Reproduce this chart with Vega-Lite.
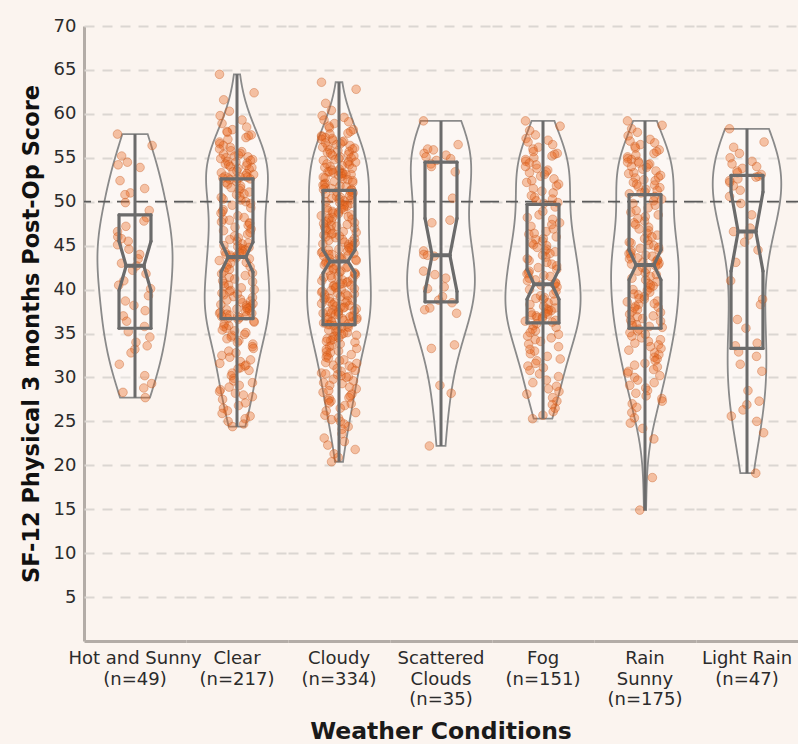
{
  "$schema": "https://vega.github.io/schema/vega-lite/v6.json",
  "padding": {"left": 20, "top": 17, "right": 0, "bottom": 0},
  "background": "#fbf4ef",
  "data": {"values": [
{"c":"Hot and Sunny","v":57.7},{"c":"Hot and Sunny","v":56.4},{"c":"Hot and Sunny","v":55.2},{"c":"Hot and Sunny","v":54.5},{"c":"Hot and Sunny","v":54.2},{"c":"Hot and Sunny","v":53.9},{"c":"Hot and Sunny","v":52.4},{"c":"Hot and Sunny","v":51.5},{"c":"Hot and Sunny","v":51.0},{"c":"Hot and Sunny","v":50.8},{"c":"Hot and Sunny","v":49.9},{"c":"Hot and Sunny","v":49.0},{"c":"Hot and Sunny","v":48.2},{"c":"Hot and Sunny","v":47.8},{"c":"Hot and Sunny","v":47.2},{"c":"Hot and Sunny","v":46.6},{"c":"Hot and Sunny","v":46.0},{"c":"Hot and Sunny","v":45.8},{"c":"Hot and Sunny","v":45.5},{"c":"Hot and Sunny","v":45.1},{"c":"Hot and Sunny","v":44.6},{"c":"Hot and Sunny","v":44.0},{"c":"Hot and Sunny","v":43.5},{"c":"Hot and Sunny","v":43.0},{"c":"Hot and Sunny","v":42.7},{"c":"Hot and Sunny","v":42.2},{"c":"Hot and Sunny","v":41.8},{"c":"Hot and Sunny","v":41.0},{"c":"Hot and Sunny","v":40.5},{"c":"Hot and Sunny","v":40.1},{"c":"Hot and Sunny","v":39.3},{"c":"Hot and Sunny","v":38.7},{"c":"Hot and Sunny","v":38.2},{"c":"Hot and Sunny","v":37.6},{"c":"Hot and Sunny","v":37.0},{"c":"Hot and Sunny","v":36.4},{"c":"Hot and Sunny","v":35.8},{"c":"Hot and Sunny","v":35.2},{"c":"Hot and Sunny","v":34.6},{"c":"Hot and Sunny","v":34.0},{"c":"Hot and Sunny","v":33.6},{"c":"Hot and Sunny","v":33.2},{"c":"Hot and Sunny","v":32.8},{"c":"Hot and Sunny","v":31.5},{"c":"Hot and Sunny","v":30.2},{"c":"Hot and Sunny","v":29.3},{"c":"Hot and Sunny","v":28.8},{"c":"Hot and Sunny","v":28.3},{"c":"Hot and Sunny","v":27.7},
{"c":"Clear","v":64.5},{"c":"Clear","v":62.4},{"c":"Clear","v":61.6},{"c":"Clear","v":60.3},{"c":"Clear","v":59.8},{"c":"Clear","v":59.3},{"c":"Clear","v":58.9},{"c":"Clear","v":58.5},{"c":"Clear","v":58.2},{"c":"Clear","v":58.0},{"c":"Clear","v":57.9},{"c":"Clear","v":57.6},{"c":"Clear","v":57.5},{"c":"Clear","v":57.3},{"c":"Clear","v":57.1},{"c":"Clear","v":56.8},{"c":"Clear","v":56.6},{"c":"Clear","v":56.4},{"c":"Clear","v":56.2},{"c":"Clear","v":56.0},{"c":"Clear","v":55.8},{"c":"Clear","v":55.7},{"c":"Clear","v":55.5},{"c":"Clear","v":55.4},{"c":"Clear","v":55.3},{"c":"Clear","v":55.2},{"c":"Clear","v":55.1},{"c":"Clear","v":55.0},{"c":"Clear","v":54.9},{"c":"Clear","v":54.8},{"c":"Clear","v":54.7},{"c":"Clear","v":54.6},{"c":"Clear","v":54.5},{"c":"Clear","v":54.4},{"c":"Clear","v":54.3},{"c":"Clear","v":54.2},{"c":"Clear","v":54.1},{"c":"Clear","v":54.0},{"c":"Clear","v":53.9},{"c":"Clear","v":53.8},{"c":"Clear","v":53.7},{"c":"Clear","v":53.5},{"c":"Clear","v":53.4},{"c":"Clear","v":53.3},{"c":"Clear","v":53.2},{"c":"Clear","v":53.1},{"c":"Clear","v":53.0},{"c":"Clear","v":52.9},{"c":"Clear","v":52.8},{"c":"Clear","v":52.8},{"c":"Clear","v":52.7},{"c":"Clear","v":52.7},{"c":"Clear","v":52.6},{"c":"Clear","v":52.6},
{"c":"Clear","v":52.5},{"c":"Clear","v":52.3},{"c":"Clear","v":52.2},{"c":"Clear","v":52.0},{"c":"Clear","v":51.8},{"c":"Clear","v":51.6},{"c":"Clear","v":51.5},{"c":"Clear","v":51.3},{"c":"Clear","v":51.1},{"c":"Clear","v":50.9},{"c":"Clear","v":50.8},{"c":"Clear","v":50.6},{"c":"Clear","v":50.5},{"c":"Clear","v":50.3},{"c":"Clear","v":50.2},{"c":"Clear","v":50.0},{"c":"Clear","v":49.8},{"c":"Clear","v":49.6},{"c":"Clear","v":49.3},{"c":"Clear","v":49.1},{"c":"Clear","v":48.9},{"c":"Clear","v":48.7},{"c":"Clear","v":48.4},{"c":"Clear","v":48.2},{"c":"Clear","v":48.0},{"c":"Clear","v":47.9},{"c":"Clear","v":47.7},{"c":"Clear","v":47.6},{"c":"Clear","v":47.5},{"c":"Clear","v":47.3},{"c":"Clear","v":47.1},{"c":"Clear","v":46.9},{"c":"Clear","v":46.7},{"c":"Clear","v":46.5},{"c":"Clear","v":46.3},{"c":"Clear","v":46.1},{"c":"Clear","v":45.9},{"c":"Clear","v":45.7},{"c":"Clear","v":45.5},{"c":"Clear","v":45.3},{"c":"Clear","v":45.2},{"c":"Clear","v":45.0},{"c":"Clear","v":44.9},{"c":"Clear","v":44.8},{"c":"Clear","v":44.7},{"c":"Clear","v":44.6},{"c":"Clear","v":44.5},{"c":"Clear","v":44.4},{"c":"Clear","v":44.3},{"c":"Clear","v":44.2},{"c":"Clear","v":44.1},{"c":"Clear","v":44.0},{"c":"Clear","v":43.9},{"c":"Clear","v":43.8},{"c":"Clear","v":43.7},
{"c":"Clear","v":43.6},{"c":"Clear","v":43.5},{"c":"Clear","v":43.3},{"c":"Clear","v":43.1},{"c":"Clear","v":43.0},{"c":"Clear","v":42.8},{"c":"Clear","v":42.6},{"c":"Clear","v":42.5},{"c":"Clear","v":42.3},{"c":"Clear","v":42.1},{"c":"Clear","v":41.9},{"c":"Clear","v":41.8},{"c":"Clear","v":41.6},{"c":"Clear","v":41.4},{"c":"Clear","v":41.2},{"c":"Clear","v":41.0},{"c":"Clear","v":40.9},{"c":"Clear","v":40.7},{"c":"Clear","v":40.5},{"c":"Clear","v":40.4},{"c":"Clear","v":40.2},{"c":"Clear","v":40.0},{"c":"Clear","v":39.9},{"c":"Clear","v":39.8},{"c":"Clear","v":39.6},{"c":"Clear","v":39.5},{"c":"Clear","v":39.4},{"c":"Clear","v":39.2},{"c":"Clear","v":39.1},{"c":"Clear","v":38.9},{"c":"Clear","v":38.8},{"c":"Clear","v":38.7},{"c":"Clear","v":38.5},{"c":"Clear","v":38.4},{"c":"Clear","v":38.3},{"c":"Clear","v":38.2},{"c":"Clear","v":38.1},{"c":"Clear","v":38.0},{"c":"Clear","v":37.9},{"c":"Clear","v":37.8},{"c":"Clear","v":37.8},{"c":"Clear","v":37.7},{"c":"Clear","v":37.6},{"c":"Clear","v":37.5},{"c":"Clear","v":37.4},{"c":"Clear","v":37.3},{"c":"Clear","v":37.3},{"c":"Clear","v":37.2},{"c":"Clear","v":37.1},{"c":"Clear","v":37.0},{"c":"Clear","v":36.9},{"c":"Clear","v":36.9},{"c":"Clear","v":36.8},{"c":"Clear","v":36.7},
{"c":"Clear","v":36.6},{"c":"Clear","v":36.4},{"c":"Clear","v":36.3},{"c":"Clear","v":36.1},{"c":"Clear","v":35.9},{"c":"Clear","v":35.8},{"c":"Clear","v":35.6},{"c":"Clear","v":35.4},{"c":"Clear","v":35.3},{"c":"Clear","v":35.1},{"c":"Clear","v":34.9},{"c":"Clear","v":34.8},{"c":"Clear","v":34.6},{"c":"Clear","v":34.4},{"c":"Clear","v":34.2},{"c":"Clear","v":34.0},{"c":"Clear","v":33.8},{"c":"Clear","v":33.5},{"c":"Clear","v":33.3},{"c":"Clear","v":33.0},{"c":"Clear","v":32.8},{"c":"Clear","v":32.5},{"c":"Clear","v":32.3},{"c":"Clear","v":32.0},{"c":"Clear","v":31.8},{"c":"Clear","v":31.6},{"c":"Clear","v":31.4},{"c":"Clear","v":31.3},{"c":"Clear","v":31.1},{"c":"Clear","v":31.0},{"c":"Clear","v":30.8},{"c":"Clear","v":30.5},{"c":"Clear","v":30.2},{"c":"Clear","v":29.9},{"c":"Clear","v":29.6},{"c":"Clear","v":29.4},{"c":"Clear","v":29.1},{"c":"Clear","v":28.9},{"c":"Clear","v":28.6},{"c":"Clear","v":28.4},{"c":"Clear","v":28.2},{"c":"Clear","v":28.0},{"c":"Clear","v":27.8},{"c":"Clear","v":27.5},{"c":"Clear","v":27.1},{"c":"Clear","v":26.8},{"c":"Clear","v":26.5},{"c":"Clear","v":26.2},{"c":"Clear","v":25.9},{"c":"Clear","v":25.6},{"c":"Clear","v":25.3},{"c":"Clear","v":25.0},{"c":"Clear","v":24.7},{"c":"Clear","v":24.4},
{"c":"Cloudy","v":63.6},{"c":"Cloudy","v":62.8},{"c":"Cloudy","v":61.2},{"c":"Cloudy","v":60.4},{"c":"Cloudy","v":59.8},{"c":"Cloudy","v":59.6},{"c":"Cloudy","v":59.3},{"c":"Cloudy","v":59.1},{"c":"Cloudy","v":58.9},{"c":"Cloudy","v":58.6},{"c":"Cloudy","v":58.4},{"c":"Cloudy","v":58.2},{"c":"Cloudy","v":58.0},{"c":"Cloudy","v":57.8},{"c":"Cloudy","v":57.7},{"c":"Cloudy","v":57.5},
{"c":"Cloudy","v":57.4},{"c":"Cloudy","v":57.3},{"c":"Cloudy","v":57.2},{"c":"Cloudy","v":57.1},{"c":"Cloudy","v":57.0},{"c":"Cloudy","v":56.9},{"c":"Cloudy","v":56.8},{"c":"Cloudy","v":56.7},{"c":"Cloudy","v":56.6},{"c":"Cloudy","v":56.5},{"c":"Cloudy","v":56.4},{"c":"Cloudy","v":56.3},{"c":"Cloudy","v":56.2},{"c":"Cloudy","v":56.1},{"c":"Cloudy","v":56.0},{"c":"Cloudy","v":55.9},{"c":"Cloudy","v":55.8},{"c":"Cloudy","v":55.7},{"c":"Cloudy","v":55.6},{"c":"Cloudy","v":55.5},{"c":"Cloudy","v":55.4},{"c":"Cloudy","v":55.3},{"c":"Cloudy","v":55.2},{"c":"Cloudy","v":55.1},{"c":"Cloudy","v":55.0},
{"c":"Cloudy","v":54.9},{"c":"Cloudy","v":54.8},{"c":"Cloudy","v":54.7},{"c":"Cloudy","v":54.6},{"c":"Cloudy","v":54.5},{"c":"Cloudy","v":54.4},{"c":"Cloudy","v":54.3},{"c":"Cloudy","v":54.2},{"c":"Cloudy","v":54.1},{"c":"Cloudy","v":54.0},{"c":"Cloudy","v":53.9},{"c":"Cloudy","v":53.8},{"c":"Cloudy","v":53.7},{"c":"Cloudy","v":53.6},{"c":"Cloudy","v":53.5},{"c":"Cloudy","v":53.4},{"c":"Cloudy","v":53.4},{"c":"Cloudy","v":53.3},{"c":"Cloudy","v":53.3},{"c":"Cloudy","v":53.2},{"c":"Cloudy","v":53.2},{"c":"Cloudy","v":53.1},{"c":"Cloudy","v":53.1},{"c":"Cloudy","v":53.0},
{"c":"Cloudy","v":52.9},{"c":"Cloudy","v":52.8},{"c":"Cloudy","v":52.7},{"c":"Cloudy","v":52.6},{"c":"Cloudy","v":52.5},{"c":"Cloudy","v":52.4},{"c":"Cloudy","v":52.3},{"c":"Cloudy","v":52.2},{"c":"Cloudy","v":52.1},{"c":"Cloudy","v":52.0},{"c":"Cloudy","v":51.9},{"c":"Cloudy","v":51.8},{"c":"Cloudy","v":51.7},{"c":"Cloudy","v":51.6},{"c":"Cloudy","v":51.5},{"c":"Cloudy","v":51.4},{"c":"Cloudy","v":51.4},{"c":"Cloudy","v":51.3},
{"c":"Cloudy","v":51.2},{"c":"Cloudy","v":51.1},{"c":"Cloudy","v":51.0},{"c":"Cloudy","v":50.9},{"c":"Cloudy","v":50.8},{"c":"Cloudy","v":50.7},{"c":"Cloudy","v":50.6},{"c":"Cloudy","v":50.5},{"c":"Cloudy","v":50.4},{"c":"Cloudy","v":50.3},{"c":"Cloudy","v":50.2},{"c":"Cloudy","v":50.1},{"c":"Cloudy","v":50.0},{"c":"Cloudy","v":49.9},{"c":"Cloudy","v":49.8},{"c":"Cloudy","v":49.7},{"c":"Cloudy","v":49.6},{"c":"Cloudy","v":49.5},{"c":"Cloudy","v":49.4},{"c":"Cloudy","v":49.3},{"c":"Cloudy","v":49.2},{"c":"Cloudy","v":49.1},
{"c":"Cloudy","v":49.0},{"c":"Cloudy","v":48.9},{"c":"Cloudy","v":48.8},{"c":"Cloudy","v":48.7},{"c":"Cloudy","v":48.6},{"c":"Cloudy","v":48.5},{"c":"Cloudy","v":48.4},{"c":"Cloudy","v":48.3},{"c":"Cloudy","v":48.2},{"c":"Cloudy","v":48.1},{"c":"Cloudy","v":48.0},{"c":"Cloudy","v":47.9},{"c":"Cloudy","v":47.8},{"c":"Cloudy","v":47.7},{"c":"Cloudy","v":47.6},{"c":"Cloudy","v":47.5},{"c":"Cloudy","v":47.4},{"c":"Cloudy","v":47.3},{"c":"Cloudy","v":47.2},{"c":"Cloudy","v":47.1},
{"c":"Cloudy","v":47.0},{"c":"Cloudy","v":46.9},{"c":"Cloudy","v":46.8},{"c":"Cloudy","v":46.7},{"c":"Cloudy","v":46.6},{"c":"Cloudy","v":46.5},{"c":"Cloudy","v":46.4},{"c":"Cloudy","v":46.3},{"c":"Cloudy","v":46.2},{"c":"Cloudy","v":46.1},{"c":"Cloudy","v":46.0},{"c":"Cloudy","v":45.9},{"c":"Cloudy","v":45.8},{"c":"Cloudy","v":45.7},{"c":"Cloudy","v":45.6},{"c":"Cloudy","v":45.5},{"c":"Cloudy","v":45.4},{"c":"Cloudy","v":45.3},{"c":"Cloudy","v":45.2},{"c":"Cloudy","v":45.1},
{"c":"Cloudy","v":45.0},{"c":"Cloudy","v":44.9},{"c":"Cloudy","v":44.8},{"c":"Cloudy","v":44.7},{"c":"Cloudy","v":44.6},{"c":"Cloudy","v":44.5},{"c":"Cloudy","v":44.5},{"c":"Cloudy","v":44.4},{"c":"Cloudy","v":44.3},{"c":"Cloudy","v":44.2},{"c":"Cloudy","v":44.1},{"c":"Cloudy","v":44.0},{"c":"Cloudy","v":44.0},{"c":"Cloudy","v":43.9},{"c":"Cloudy","v":43.8},{"c":"Cloudy","v":43.7},{"c":"Cloudy","v":43.6},{"c":"Cloudy","v":43.5},{"c":"Cloudy","v":43.5},{"c":"Cloudy","v":43.4},{"c":"Cloudy","v":43.3},{"c":"Cloudy","v":43.2},
{"c":"Cloudy","v":43.1},{"c":"Cloudy","v":43.0},{"c":"Cloudy","v":42.9},{"c":"Cloudy","v":42.8},{"c":"Cloudy","v":42.7},{"c":"Cloudy","v":42.6},{"c":"Cloudy","v":42.5},{"c":"Cloudy","v":42.4},{"c":"Cloudy","v":42.3},{"c":"Cloudy","v":42.2},{"c":"Cloudy","v":42.1},{"c":"Cloudy","v":42.0},{"c":"Cloudy","v":41.9},{"c":"Cloudy","v":41.8},{"c":"Cloudy","v":41.7},{"c":"Cloudy","v":41.6},{"c":"Cloudy","v":41.5},{"c":"Cloudy","v":41.4},{"c":"Cloudy","v":41.3},{"c":"Cloudy","v":41.2},
{"c":"Cloudy","v":41.1},{"c":"Cloudy","v":41.0},{"c":"Cloudy","v":40.9},{"c":"Cloudy","v":40.8},{"c":"Cloudy","v":40.7},{"c":"Cloudy","v":40.6},{"c":"Cloudy","v":40.5},{"c":"Cloudy","v":40.5},{"c":"Cloudy","v":40.4},{"c":"Cloudy","v":40.3},{"c":"Cloudy","v":40.2},{"c":"Cloudy","v":40.1},{"c":"Cloudy","v":40.0},{"c":"Cloudy","v":39.9},{"c":"Cloudy","v":39.8},{"c":"Cloudy","v":39.7},{"c":"Cloudy","v":39.6},{"c":"Cloudy","v":39.5},{"c":"Cloudy","v":39.5},{"c":"Cloudy","v":39.4},{"c":"Cloudy","v":39.3},{"c":"Cloudy","v":39.2},
{"c":"Cloudy","v":39.1},{"c":"Cloudy","v":39.0},{"c":"Cloudy","v":38.9},{"c":"Cloudy","v":38.8},{"c":"Cloudy","v":38.7},{"c":"Cloudy","v":38.6},{"c":"Cloudy","v":38.5},{"c":"Cloudy","v":38.5},{"c":"Cloudy","v":38.4},{"c":"Cloudy","v":38.3},{"c":"Cloudy","v":38.2},{"c":"Cloudy","v":38.1},{"c":"Cloudy","v":38.0},{"c":"Cloudy","v":38.0},{"c":"Cloudy","v":37.9},{"c":"Cloudy","v":37.8},{"c":"Cloudy","v":37.7},{"c":"Cloudy","v":37.6},{"c":"Cloudy","v":37.5},{"c":"Cloudy","v":37.5},{"c":"Cloudy","v":37.4},{"c":"Cloudy","v":37.3},{"c":"Cloudy","v":37.3},{"c":"Cloudy","v":37.2},
{"c":"Cloudy","v":37.1},{"c":"Cloudy","v":37.0},{"c":"Cloudy","v":36.9},{"c":"Cloudy","v":36.9},{"c":"Cloudy","v":36.8},{"c":"Cloudy","v":36.8},{"c":"Cloudy","v":36.7},{"c":"Cloudy","v":36.6},{"c":"Cloudy","v":36.6},{"c":"Cloudy","v":36.5},{"c":"Cloudy","v":36.4},{"c":"Cloudy","v":36.3},{"c":"Cloudy","v":36.3},{"c":"Cloudy","v":36.2},{"c":"Cloudy","v":36.1},{"c":"Cloudy","v":36.0},{"c":"Cloudy","v":36.0},
{"c":"Cloudy","v":35.9},{"c":"Cloudy","v":35.8},{"c":"Cloudy","v":35.7},{"c":"Cloudy","v":35.6},{"c":"Cloudy","v":35.5},{"c":"Cloudy","v":35.4},{"c":"Cloudy","v":35.3},{"c":"Cloudy","v":35.2},{"c":"Cloudy","v":35.1},{"c":"Cloudy","v":35.0},{"c":"Cloudy","v":34.9},{"c":"Cloudy","v":34.8},{"c":"Cloudy","v":34.7},{"c":"Cloudy","v":34.6},{"c":"Cloudy","v":34.5},{"c":"Cloudy","v":34.4},{"c":"Cloudy","v":34.3},{"c":"Cloudy","v":34.2},{"c":"Cloudy","v":34.1},{"c":"Cloudy","v":34.0},{"c":"Cloudy","v":33.8},{"c":"Cloudy","v":33.6},{"c":"Cloudy","v":33.5},{"c":"Cloudy","v":33.3},{"c":"Cloudy","v":33.2},{"c":"Cloudy","v":33.0},
{"c":"Cloudy","v":32.9},{"c":"Cloudy","v":32.8},{"c":"Cloudy","v":32.6},{"c":"Cloudy","v":32.5},{"c":"Cloudy","v":32.3},{"c":"Cloudy","v":32.2},{"c":"Cloudy","v":32.0},{"c":"Cloudy","v":31.9},{"c":"Cloudy","v":31.7},{"c":"Cloudy","v":31.6},{"c":"Cloudy","v":31.4},{"c":"Cloudy","v":31.3},{"c":"Cloudy","v":31.1},{"c":"Cloudy","v":31.0},{"c":"Cloudy","v":30.8},{"c":"Cloudy","v":30.7},{"c":"Cloudy","v":30.5},{"c":"Cloudy","v":30.4},{"c":"Cloudy","v":30.3},{"c":"Cloudy","v":30.2},{"c":"Cloudy","v":30.1},{"c":"Cloudy","v":30.0},
{"c":"Cloudy","v":29.8},{"c":"Cloudy","v":29.6},{"c":"Cloudy","v":29.4},{"c":"Cloudy","v":29.3},{"c":"Cloudy","v":29.1},{"c":"Cloudy","v":28.9},{"c":"Cloudy","v":28.7},{"c":"Cloudy","v":28.5},{"c":"Cloudy","v":28.3},{"c":"Cloudy","v":28.1},{"c":"Cloudy","v":27.9},{"c":"Cloudy","v":27.7},{"c":"Cloudy","v":27.6},{"c":"Cloudy","v":27.4},{"c":"Cloudy","v":27.3},{"c":"Cloudy","v":27.1},{"c":"Cloudy","v":27.0},
{"c":"Cloudy","v":26.8},{"c":"Cloudy","v":26.5},{"c":"Cloudy","v":26.2},{"c":"Cloudy","v":26.0},{"c":"Cloudy","v":25.7},{"c":"Cloudy","v":25.4},{"c":"Cloudy","v":25.2},{"c":"Cloudy","v":25.0},{"c":"Cloudy","v":24.7},{"c":"Cloudy","v":24.4},{"c":"Cloudy","v":24.1},
{"c":"Cloudy","v":23.6},{"c":"Cloudy","v":23.1},{"c":"Cloudy","v":22.7},{"c":"Cloudy","v":22.3},{"c":"Cloudy","v":21.8},{"c":"Cloudy","v":21.3},{"c":"Cloudy","v":20.9},{"c":"Cloudy","v":20.4},
{"c":"Scattered Clouds","v":59.2},{"c":"Scattered Clouds","v":56.5},{"c":"Scattered Clouds","v":56.0},{"c":"Scattered Clouds","v":55.9},{"c":"Scattered Clouds","v":55.5},{"c":"Scattered Clouds","v":55.3},{"c":"Scattered Clouds","v":55.1},{"c":"Scattered Clouds","v":54.9},{"c":"Scattered Clouds","v":54.7},{"c":"Scattered Clouds","v":54.3},{"c":"Scattered Clouds","v":54.0},{"c":"Scattered Clouds","v":53.4},{"c":"Scattered Clouds","v":50.4},{"c":"Scattered Clouds","v":47.9},{"c":"Scattered Clouds","v":47.6},{"c":"Scattered Clouds","v":44.4},{"c":"Scattered Clouds","v":44.0},{"c":"Scattered Clouds","v":43.9},{"c":"Scattered Clouds","v":43.8},{"c":"Scattered Clouds","v":42.1},{"c":"Scattered Clouds","v":41.7},{"c":"Scattered Clouds","v":41.3},{"c":"Scattered Clouds","v":40.3},{"c":"Scattered Clouds","v":40.1},{"c":"Scattered Clouds","v":39.2},{"c":"Scattered Clouds","v":38.8},{"c":"Scattered Clouds","v":38.5},{"c":"Scattered Clouds","v":37.9},{"c":"Scattered Clouds","v":37.7},{"c":"Scattered Clouds","v":37.3},{"c":"Scattered Clouds","v":33.7},{"c":"Scattered Clouds","v":33.3},{"c":"Scattered Clouds","v":29.1},{"c":"Scattered Clouds","v":28.2},{"c":"Scattered Clouds","v":22.2},
{"c":"Fog","v":59.2},{"c":"Fog","v":58.6},{"c":"Fog","v":58.1},{"c":"Fog","v":57.6},{"c":"Fog","v":57.2},{"c":"Fog","v":57.0},{"c":"Fog","v":56.8},{"c":"Fog","v":56.5},{"c":"Fog","v":56.2},{"c":"Fog","v":56.0},{"c":"Fog","v":55.7},{"c":"Fog","v":55.5},{"c":"Fog","v":55.4},{"c":"Fog","v":55.2},{"c":"Fog","v":55.0},{"c":"Fog","v":54.8},{"c":"Fog","v":54.6},{"c":"Fog","v":54.4},{"c":"Fog","v":54.2},{"c":"Fog","v":54.0},{"c":"Fog","v":53.8},{"c":"Fog","v":53.6},{"c":"Fog","v":53.4},{"c":"Fog","v":53.3},{"c":"Fog","v":53.1},{"c":"Fog","v":52.9},{"c":"Fog","v":52.6},{"c":"Fog","v":52.4},{"c":"Fog","v":52.2},{"c":"Fog","v":52.0},{"c":"Fog","v":51.8},{"c":"Fog","v":51.5},{"c":"Fog","v":51.2},{"c":"Fog","v":51.0},{"c":"Fog","v":50.7},{"c":"Fog","v":50.5},{"c":"Fog","v":50.3},{"c":"Fog","v":50.1},{"c":"Fog","v":49.9},{"c":"Fog","v":49.8},
{"c":"Fog","v":49.4},{"c":"Fog","v":48.9},{"c":"Fog","v":48.5},{"c":"Fog","v":48.2},{"c":"Fog","v":48.0},{"c":"Fog","v":47.6},{"c":"Fog","v":47.4},{"c":"Fog","v":47.2},{"c":"Fog","v":46.9},{"c":"Fog","v":46.6},{"c":"Fog","v":46.4},{"c":"Fog","v":46.3},{"c":"Fog","v":46.0},{"c":"Fog","v":45.8},{"c":"Fog","v":45.7},{"c":"Fog","v":45.5},{"c":"Fog","v":45.3},{"c":"Fog","v":45.1},{"c":"Fog","v":45.0},{"c":"Fog","v":44.8},{"c":"Fog","v":44.6},{"c":"Fog","v":44.4},{"c":"Fog","v":44.3},{"c":"Fog","v":44.1},{"c":"Fog","v":43.9},{"c":"Fog","v":43.7},{"c":"Fog","v":43.5},{"c":"Fog","v":43.3},{"c":"Fog","v":43.1},{"c":"Fog","v":42.9},{"c":"Fog","v":42.7},{"c":"Fog","v":42.5},{"c":"Fog","v":42.3},{"c":"Fog","v":42.1},{"c":"Fog","v":41.9},{"c":"Fog","v":41.8},{"c":"Fog","v":41.6},{"c":"Fog","v":41.5},{"c":"Fog","v":41.3},{"c":"Fog","v":41.1},{"c":"Fog","v":41.0},{"c":"Fog","v":40.8},{"c":"Fog","v":40.7},{"c":"Fog","v":40.6},
{"c":"Fog","v":40.5},{"c":"Fog","v":40.3},{"c":"Fog","v":40.0},{"c":"Fog","v":39.8},{"c":"Fog","v":39.5},{"c":"Fog","v":39.3},{"c":"Fog","v":39.1},{"c":"Fog","v":39.0},{"c":"Fog","v":38.9},{"c":"Fog","v":38.7},{"c":"Fog","v":38.5},{"c":"Fog","v":38.3},{"c":"Fog","v":38.1},{"c":"Fog","v":37.9},{"c":"Fog","v":37.8},{"c":"Fog","v":37.7},{"c":"Fog","v":37.6},{"c":"Fog","v":37.5},{"c":"Fog","v":37.4},{"c":"Fog","v":37.3},{"c":"Fog","v":37.2},{"c":"Fog","v":37.1},{"c":"Fog","v":37.0},{"c":"Fog","v":36.9},{"c":"Fog","v":36.8},{"c":"Fog","v":36.7},{"c":"Fog","v":36.5},{"c":"Fog","v":36.4},{"c":"Fog","v":36.3},
{"c":"Fog","v":36.1},{"c":"Fog","v":35.9},{"c":"Fog","v":35.7},{"c":"Fog","v":35.5},{"c":"Fog","v":35.3},{"c":"Fog","v":35.1},{"c":"Fog","v":34.9},{"c":"Fog","v":34.7},{"c":"Fog","v":34.5},{"c":"Fog","v":34.3},{"c":"Fog","v":34.1},{"c":"Fog","v":33.8},{"c":"Fog","v":33.5},{"c":"Fog","v":33.2},{"c":"Fog","v":33.0},{"c":"Fog","v":32.7},{"c":"Fog","v":32.4},{"c":"Fog","v":32.1},{"c":"Fog","v":31.9},{"c":"Fog","v":31.6},{"c":"Fog","v":31.3},{"c":"Fog","v":31.1},{"c":"Fog","v":30.8},{"c":"Fog","v":30.4},{"c":"Fog","v":30.1},{"c":"Fog","v":29.7},{"c":"Fog","v":29.4},{"c":"Fog","v":29.0},{"c":"Fog","v":28.7},{"c":"Fog","v":28.4},{"c":"Fog","v":28.1},{"c":"Fog","v":27.7},{"c":"Fog","v":27.3},{"c":"Fog","v":26.9},{"c":"Fog","v":26.5},{"c":"Fog","v":26.1},{"c":"Fog","v":25.7},{"c":"Fog","v":25.3},
{"c":"Rain Sunny","v":59.2},{"c":"Rain Sunny","v":58.7},{"c":"Rain Sunny","v":58.3},{"c":"Rain Sunny","v":57.9},{"c":"Rain Sunny","v":57.5},{"c":"Rain Sunny","v":57.1},{"c":"Rain Sunny","v":56.9},{"c":"Rain Sunny","v":56.7},{"c":"Rain Sunny","v":56.5},{"c":"Rain Sunny","v":56.3},{"c":"Rain Sunny","v":56.1},{"c":"Rain Sunny","v":55.9},{"c":"Rain Sunny","v":55.7},{"c":"Rain Sunny","v":55.5},{"c":"Rain Sunny","v":55.3},{"c":"Rain Sunny","v":55.1},{"c":"Rain Sunny","v":54.9},{"c":"Rain Sunny","v":54.8},{"c":"Rain Sunny","v":54.6},{"c":"Rain Sunny","v":54.5},{"c":"Rain Sunny","v":54.4},{"c":"Rain Sunny","v":54.3},{"c":"Rain Sunny","v":54.2},{"c":"Rain Sunny","v":54.0},{"c":"Rain Sunny","v":53.9},{"c":"Rain Sunny","v":53.7},{"c":"Rain Sunny","v":53.5},{"c":"Rain Sunny","v":53.3},{"c":"Rain Sunny","v":53.2},{"c":"Rain Sunny","v":53.0},{"c":"Rain Sunny","v":52.8},{"c":"Rain Sunny","v":52.7},{"c":"Rain Sunny","v":52.5},{"c":"Rain Sunny","v":52.4},{"c":"Rain Sunny","v":52.2},{"c":"Rain Sunny","v":52.0},{"c":"Rain Sunny","v":51.9},{"c":"Rain Sunny","v":51.7},{"c":"Rain Sunny","v":51.6},{"c":"Rain Sunny","v":51.4},{"c":"Rain Sunny","v":51.3},{"c":"Rain Sunny","v":51.1},{"c":"Rain Sunny","v":51.0},{"c":"Rain Sunny","v":50.9},
{"c":"Rain Sunny","v":50.6},{"c":"Rain Sunny","v":50.3},{"c":"Rain Sunny","v":50.1},{"c":"Rain Sunny","v":49.8},{"c":"Rain Sunny","v":49.6},{"c":"Rain Sunny","v":49.3},{"c":"Rain Sunny","v":49.0},{"c":"Rain Sunny","v":48.8},{"c":"Rain Sunny","v":48.5},{"c":"Rain Sunny","v":48.3},{"c":"Rain Sunny","v":48.1},{"c":"Rain Sunny","v":47.8},{"c":"Rain Sunny","v":47.6},{"c":"Rain Sunny","v":47.4},{"c":"Rain Sunny","v":47.1},{"c":"Rain Sunny","v":46.9},{"c":"Rain Sunny","v":46.7},{"c":"Rain Sunny","v":46.4},{"c":"Rain Sunny","v":46.2},{"c":"Rain Sunny","v":46.0},{"c":"Rain Sunny","v":45.8},{"c":"Rain Sunny","v":45.6},{"c":"Rain Sunny","v":45.4},{"c":"Rain Sunny","v":45.3},{"c":"Rain Sunny","v":45.1},{"c":"Rain Sunny","v":45.0},{"c":"Rain Sunny","v":44.8},{"c":"Rain Sunny","v":44.7},{"c":"Rain Sunny","v":44.5},{"c":"Rain Sunny","v":44.4},{"c":"Rain Sunny","v":44.2},{"c":"Rain Sunny","v":44.1},{"c":"Rain Sunny","v":43.9},{"c":"Rain Sunny","v":43.8},{"c":"Rain Sunny","v":43.7},{"c":"Rain Sunny","v":43.6},{"c":"Rain Sunny","v":43.5},{"c":"Rain Sunny","v":43.4},{"c":"Rain Sunny","v":43.3},{"c":"Rain Sunny","v":43.2},{"c":"Rain Sunny","v":43.1},{"c":"Rain Sunny","v":43.0},{"c":"Rain Sunny","v":42.9},{"c":"Rain Sunny","v":42.8},
{"c":"Rain Sunny","v":42.7},{"c":"Rain Sunny","v":42.5},{"c":"Rain Sunny","v":42.3},{"c":"Rain Sunny","v":42.1},{"c":"Rain Sunny","v":41.9},{"c":"Rain Sunny","v":41.7},{"c":"Rain Sunny","v":41.5},{"c":"Rain Sunny","v":41.3},{"c":"Rain Sunny","v":41.1},{"c":"Rain Sunny","v":40.9},{"c":"Rain Sunny","v":40.7},{"c":"Rain Sunny","v":40.5},{"c":"Rain Sunny","v":40.4},{"c":"Rain Sunny","v":40.2},{"c":"Rain Sunny","v":40.0},{"c":"Rain Sunny","v":39.9},{"c":"Rain Sunny","v":39.7},{"c":"Rain Sunny","v":39.5},{"c":"Rain Sunny","v":39.4},{"c":"Rain Sunny","v":39.2},{"c":"Rain Sunny","v":39.0},{"c":"Rain Sunny","v":38.9},{"c":"Rain Sunny","v":38.7},{"c":"Rain Sunny","v":38.6},{"c":"Rain Sunny","v":38.4},{"c":"Rain Sunny","v":38.3},{"c":"Rain Sunny","v":38.1},{"c":"Rain Sunny","v":38.0},{"c":"Rain Sunny","v":37.9},{"c":"Rain Sunny","v":37.7},{"c":"Rain Sunny","v":37.5},{"c":"Rain Sunny","v":37.4},{"c":"Rain Sunny","v":37.2},{"c":"Rain Sunny","v":37.0},{"c":"Rain Sunny","v":36.9},{"c":"Rain Sunny","v":36.7},{"c":"Rain Sunny","v":36.5},{"c":"Rain Sunny","v":36.4},{"c":"Rain Sunny","v":36.2},{"c":"Rain Sunny","v":36.0},{"c":"Rain Sunny","v":35.9},{"c":"Rain Sunny","v":35.8},{"c":"Rain Sunny","v":35.7},
{"c":"Rain Sunny","v":35.5},{"c":"Rain Sunny","v":35.3},{"c":"Rain Sunny","v":35.1},{"c":"Rain Sunny","v":34.9},{"c":"Rain Sunny","v":34.7},{"c":"Rain Sunny","v":34.5},{"c":"Rain Sunny","v":34.3},{"c":"Rain Sunny","v":34.1},{"c":"Rain Sunny","v":33.9},{"c":"Rain Sunny","v":33.7},{"c":"Rain Sunny","v":33.5},{"c":"Rain Sunny","v":33.3},{"c":"Rain Sunny","v":33.1},{"c":"Rain Sunny","v":32.8},{"c":"Rain Sunny","v":32.6},{"c":"Rain Sunny","v":32.3},{"c":"Rain Sunny","v":32.1},{"c":"Rain Sunny","v":31.9},{"c":"Rain Sunny","v":31.6},{"c":"Rain Sunny","v":31.4},{"c":"Rain Sunny","v":31.2},{"c":"Rain Sunny","v":30.9},{"c":"Rain Sunny","v":30.7},{"c":"Rain Sunny","v":30.5},{"c":"Rain Sunny","v":30.2},{"c":"Rain Sunny","v":30.0},{"c":"Rain Sunny","v":29.7},{"c":"Rain Sunny","v":29.4},{"c":"Rain Sunny","v":29.1},{"c":"Rain Sunny","v":28.8},{"c":"Rain Sunny","v":28.5},{"c":"Rain Sunny","v":28.2},{"c":"Rain Sunny","v":27.9},{"c":"Rain Sunny","v":27.6},{"c":"Rain Sunny","v":27.3},{"c":"Rain Sunny","v":27.0},{"c":"Rain Sunny","v":26.6},{"c":"Rain Sunny","v":26.0},{"c":"Rain Sunny","v":25.4},{"c":"Rain Sunny","v":24.8},{"c":"Rain Sunny","v":24.2},{"c":"Rain Sunny","v":23.0},{"c":"Rain Sunny","v":18.6},{"c":"Rain Sunny","v":14.9},
{"c":"Light Rain","v":58.3},{"c":"Light Rain","v":56.8},{"c":"Light Rain","v":56.2},{"c":"Light Rain","v":55.5},{"c":"Light Rain","v":55.0},{"c":"Light Rain","v":54.6},{"c":"Light Rain","v":54.3},{"c":"Light Rain","v":54.0},{"c":"Light Rain","v":53.8},{"c":"Light Rain","v":53.5},{"c":"Light Rain","v":53.3},{"c":"Light Rain","v":53.1},{"c":"Light Rain","v":52.9},{"c":"Light Rain","v":52.8},{"c":"Light Rain","v":52.6},{"c":"Light Rain","v":52.4},{"c":"Light Rain","v":52.2},{"c":"Light Rain","v":51.8},{"c":"Light Rain","v":51.3},{"c":"Light Rain","v":50.6},{"c":"Light Rain","v":49.8},{"c":"Light Rain","v":48.5},{"c":"Light Rain","v":47.0},{"c":"Light Rain","v":46.6},{"c":"Light Rain","v":46.2},{"c":"Light Rain","v":45.4},{"c":"Light Rain","v":44.5},{"c":"Light Rain","v":43.1},{"c":"Light Rain","v":41.0},{"c":"Light Rain","v":38.9},{"c":"Light Rain","v":38.3},{"c":"Light Rain","v":36.6},{"c":"Light Rain","v":35.6},{"c":"Light Rain","v":33.9},{"c":"Light Rain","v":33.6},{"c":"Light Rain","v":32.9},{"c":"Light Rain","v":32.4},{"c":"Light Rain","v":31.5},{"c":"Light Rain","v":30.7},{"c":"Light Rain","v":28.5},{"c":"Light Rain","v":27.3},{"c":"Light Rain","v":26.9},{"c":"Light Rain","v":26.3},{"c":"Light Rain","v":25.6},{"c":"Light Rain","v":25.0},{"c":"Light Rain","v":23.7},{"c":"Light Rain","v":19.1},
{"c":"Hot and Sunny","lo":27.7,"q1":35.6,"nlo":39.9,"med":42.7,"nhi":45.5,"q3":48.5,"hi":57.7},
{"c":"Clear","lo":24.4,"q1":36.7,"nlo":42.0,"med":43.7,"nhi":45.4,"q3":52.6,"hi":64.5},
{"c":"Cloudy","lo":20.4,"q1":36.0,"nlo":41.9,"med":43.2,"nhi":44.5,"q3":51.3,"hi":63.6},
{"c":"Scattered Clouds","lo":22.2,"q1":38.6,"nlo":39.8,"med":43.9,"nhi":48.1,"q3":54.5,"hi":59.2},
{"c":"Fog","lo":25.3,"q1":36.2,"nlo":38.9,"med":40.6,"nhi":42.3,"q3":49.7,"hi":59.2},
{"c":"Rain Sunny","lo":14.9,"q1":35.6,"nlo":41.1,"med":42.8,"nhi":44.5,"q3":50.8,"hi":59.2},
{"c":"Light Rain","lo":19.1,"q1":33.3,"nlo":42.1,"med":46.6,"nhi":51.1,"q3":53.0,"hi":58.3}
  ]},
  "facet": {
    "column": {
      "field": "c", "type": "nominal",
      "sort": ["Hot and Sunny", "Clear", "Cloudy", "Scattered Clouds", "Fog", "Rain Sunny", "Light Rain"],
      "title": "Weather Conditions",
      "header": {
        "labelOrient": "bottom", "titleOrient": "bottom",
        "labelExpr": "datum.value == 'Hot and Sunny' ? ['Hot and Sunny', '(n=49)'] : datum.value == 'Clear' ? ['Clear', '(n=217)'] : datum.value == 'Cloudy' ? ['Cloudy', '(n=334)'] : datum.value == 'Scattered Clouds' ? ['Scattered', 'Clouds', '(n=35)'] : datum.value == 'Fog' ? ['Fog', '(n=151)'] : datum.value == 'Rain Sunny' ? ['Rain', 'Sunny', '(n=175)'] : ['Light Rain', '(n=47)']",
        "labelFont": "DejaVu Sans", "labelFontSize": 18, "labelColor": "#2b2b2b", "labelLineHeight": 20.5, "labelPadding": 9, "labelBaseline": "top",
        "titleFont": "DejaVu Sans", "titleFontSize": 23.5, "titleFontWeight": "bold", "titleColor": "#1a1a1a", "titlePadding": 1
      }
    }
  },
  "spacing": 0,
  "bounds": "flush",
  "spec": {
    "width": 102,
    "height": 615,
    "layer": [
      {
        "transform": [{"filter": "isValid(datum.v)"}, {"density": "v", "groupby": ["c"], "as": ["value", "density"], "steps": 150}, {"calculate": "-datum.density", "as": "nd"}],
        "mark": {"type": "area", "orient": "horizontal", "fill": "#ffffff", "fillOpacity": 0.3, "stroke": "#8a8a8a", "strokeWidth": 1.8},
        "encoding": {
          "y": {"field": "value", "type": "quantitative", "title": "SF-12 Physical 3 months Post-Op Score", "scale": {"domain": [0, 70], "nice": false}, "axis": {"values": [5, 10, 15, 20, 25, 30, 35, 40, 45, 50, 55, 60, 65, 70]}},
          "x": {"field": "nd", "type": "quantitative", "title": null, "scale": {"domain": [-0.053, 0.053], "nice": false, "zero": false}},
          "x2": {"field": "density"}
        }
      },
      {
        "transform": [{"filter": "isValid(datum.q1)"}],
        "mark": {"type": "rule", "color": "#5a5a5a", "strokeDash": [12, 7], "strokeWidth": 1.8},
        "encoding": {"y": {"datum": 50, "title": "SF-12 Physical 3 months Post-Op Score"}}
      },
      {
        "transform": [
          {"filter": "isValid(datum.v)"},
          {"window": [{"op": "row_number", "as": "rn"}], "groupby": ["c"]},
          {"calculate": "((abs(sin(datum.rn * 12.9898 + 4.1414)) * 43758.5453) % 1 - 0.5) * 0.0374", "as": "j"}
        ],
        "mark": {"type": "circle", "size": 75, "fill": "#e8651a", "fillOpacity": 0.37, "stroke": "#c0541a", "strokeOpacity": 0.45, "strokeWidth": 0.8},
        "encoding": {
          "x": {"field": "j", "type": "quantitative", "title": null},
          "y": {"field": "v", "type": "quantitative", "title": "SF-12 Physical 3 months Post-Op Score"}
        }
      },
      {
        "transform": [{"filter": "isValid(datum.q1)"}],
        "mark": {"type": "rule", "color": "#6b6b6b", "strokeWidth": 3},
        "encoding": {"x": {"datum": 0, "title": null}, "y": {"field": "lo", "type": "quantitative", "title": "SF-12 Physical 3 months Post-Op Score"}, "y2": {"field": "hi"}}
      },
      {
        "transform": [{"filter": "isValid(datum.q1)"}],
        "mark": {"type": "rule", "color": "#6b6b6b", "strokeWidth": 3.2, "strokeCap": "round"},
        "encoding": {"x": {"datum": -0.0166, "title": null}, "y": {"field": "q1", "type": "quantitative", "title": "SF-12 Physical 3 months Post-Op Score"}, "y2": {"field": "nlo"}}
      },
      {
        "transform": [{"filter": "isValid(datum.q1)"}],
        "mark": {"type": "rule", "color": "#6b6b6b", "strokeWidth": 3.2, "strokeCap": "round"},
        "encoding": {"x": {"datum": -0.0166, "title": null}, "x2": {"datum": -0.0092}, "y": {"field": "nlo", "type": "quantitative", "title": "SF-12 Physical 3 months Post-Op Score"}, "y2": {"field": "med"}}
      },
      {
        "transform": [{"filter": "isValid(datum.q1)"}],
        "mark": {"type": "rule", "color": "#6b6b6b", "strokeWidth": 3.2, "strokeCap": "round"},
        "encoding": {"x": {"datum": -0.0092, "title": null}, "x2": {"datum": -0.0166}, "y": {"field": "med", "type": "quantitative", "title": "SF-12 Physical 3 months Post-Op Score"}, "y2": {"field": "nhi"}}
      },
      {
        "transform": [{"filter": "isValid(datum.q1)"}],
        "mark": {"type": "rule", "color": "#6b6b6b", "strokeWidth": 3.2, "strokeCap": "round"},
        "encoding": {"x": {"datum": -0.0166, "title": null}, "y": {"field": "nhi", "type": "quantitative", "title": "SF-12 Physical 3 months Post-Op Score"}, "y2": {"field": "q3"}}
      },
      {
        "transform": [{"filter": "isValid(datum.q1)"}],
        "mark": {"type": "rule", "color": "#6b6b6b", "strokeWidth": 3.2, "strokeCap": "round"},
        "encoding": {"x": {"datum": 0.0166, "title": null}, "y": {"field": "q1", "type": "quantitative", "title": "SF-12 Physical 3 months Post-Op Score"}, "y2": {"field": "nlo"}}
      },
      {
        "transform": [{"filter": "isValid(datum.q1)"}],
        "mark": {"type": "rule", "color": "#6b6b6b", "strokeWidth": 3.2, "strokeCap": "round"},
        "encoding": {"x": {"datum": 0.0166, "title": null}, "x2": {"datum": 0.0092}, "y": {"field": "nlo", "type": "quantitative", "title": "SF-12 Physical 3 months Post-Op Score"}, "y2": {"field": "med"}}
      },
      {
        "transform": [{"filter": "isValid(datum.q1)"}],
        "mark": {"type": "rule", "color": "#6b6b6b", "strokeWidth": 3.2, "strokeCap": "round"},
        "encoding": {"x": {"datum": 0.0092, "title": null}, "x2": {"datum": 0.0166}, "y": {"field": "med", "type": "quantitative", "title": "SF-12 Physical 3 months Post-Op Score"}, "y2": {"field": "nhi"}}
      },
      {
        "transform": [{"filter": "isValid(datum.q1)"}],
        "mark": {"type": "rule", "color": "#6b6b6b", "strokeWidth": 3.2, "strokeCap": "round"},
        "encoding": {"x": {"datum": 0.0166, "title": null}, "y": {"field": "nhi", "type": "quantitative", "title": "SF-12 Physical 3 months Post-Op Score"}, "y2": {"field": "q3"}}
      },
      {
        "transform": [{"filter": "isValid(datum.q1)"}],
        "mark": {"type": "rule", "color": "#6b6b6b", "strokeWidth": 3.2, "strokeCap": "round"},
        "encoding": {"x": {"datum": -0.0166, "title": null}, "x2": {"datum": 0.0166}, "y": {"field": "q3", "type": "quantitative", "title": "SF-12 Physical 3 months Post-Op Score"}}
      },
      {
        "transform": [{"filter": "isValid(datum.q1)"}],
        "mark": {"type": "rule", "color": "#6b6b6b", "strokeWidth": 3.2, "strokeCap": "round"},
        "encoding": {"x": {"datum": -0.0166, "title": null}, "x2": {"datum": 0.0166}, "y": {"field": "q1", "type": "quantitative", "title": "SF-12 Physical 3 months Post-Op Score"}}
      },
      {
        "transform": [{"filter": "isValid(datum.q1)"}],
        "mark": {"type": "rule", "color": "#6b6b6b", "strokeWidth": 4, "strokeCap": "round"},
        "encoding": {"x": {"datum": -0.0092, "title": null}, "x2": {"datum": 0.0092}, "y": {"field": "med", "type": "quantitative", "title": "SF-12 Physical 3 months Post-Op Score"}}
      }
    ]
  },
  "config": {
    "font": "DejaVu Sans",
    "view": {"stroke": null},
    "axisY": {
      "grid": true, "gridColor": "#dbd6d2", "gridDash": [10, 8], "gridWidth": 1.8,
      "domainColor": "#b3aca7", "domainWidth": 3, "ticks": false,
      "labelFont": "DejaVu Sans", "labelFontSize": 18, "labelColor": "#2b2b2b", "labelPadding": 8,
      "titleFont": "DejaVu Sans", "titleFontSize": 22.5, "titleFontWeight": "bold", "titleColor": "#111111", "titlePadding": 10
    },
    "axisX": {
      "labels": false, "ticks": false, "grid": false, "domainColor": "#b3aca7", "domainWidth": 3
    }
  }
}
